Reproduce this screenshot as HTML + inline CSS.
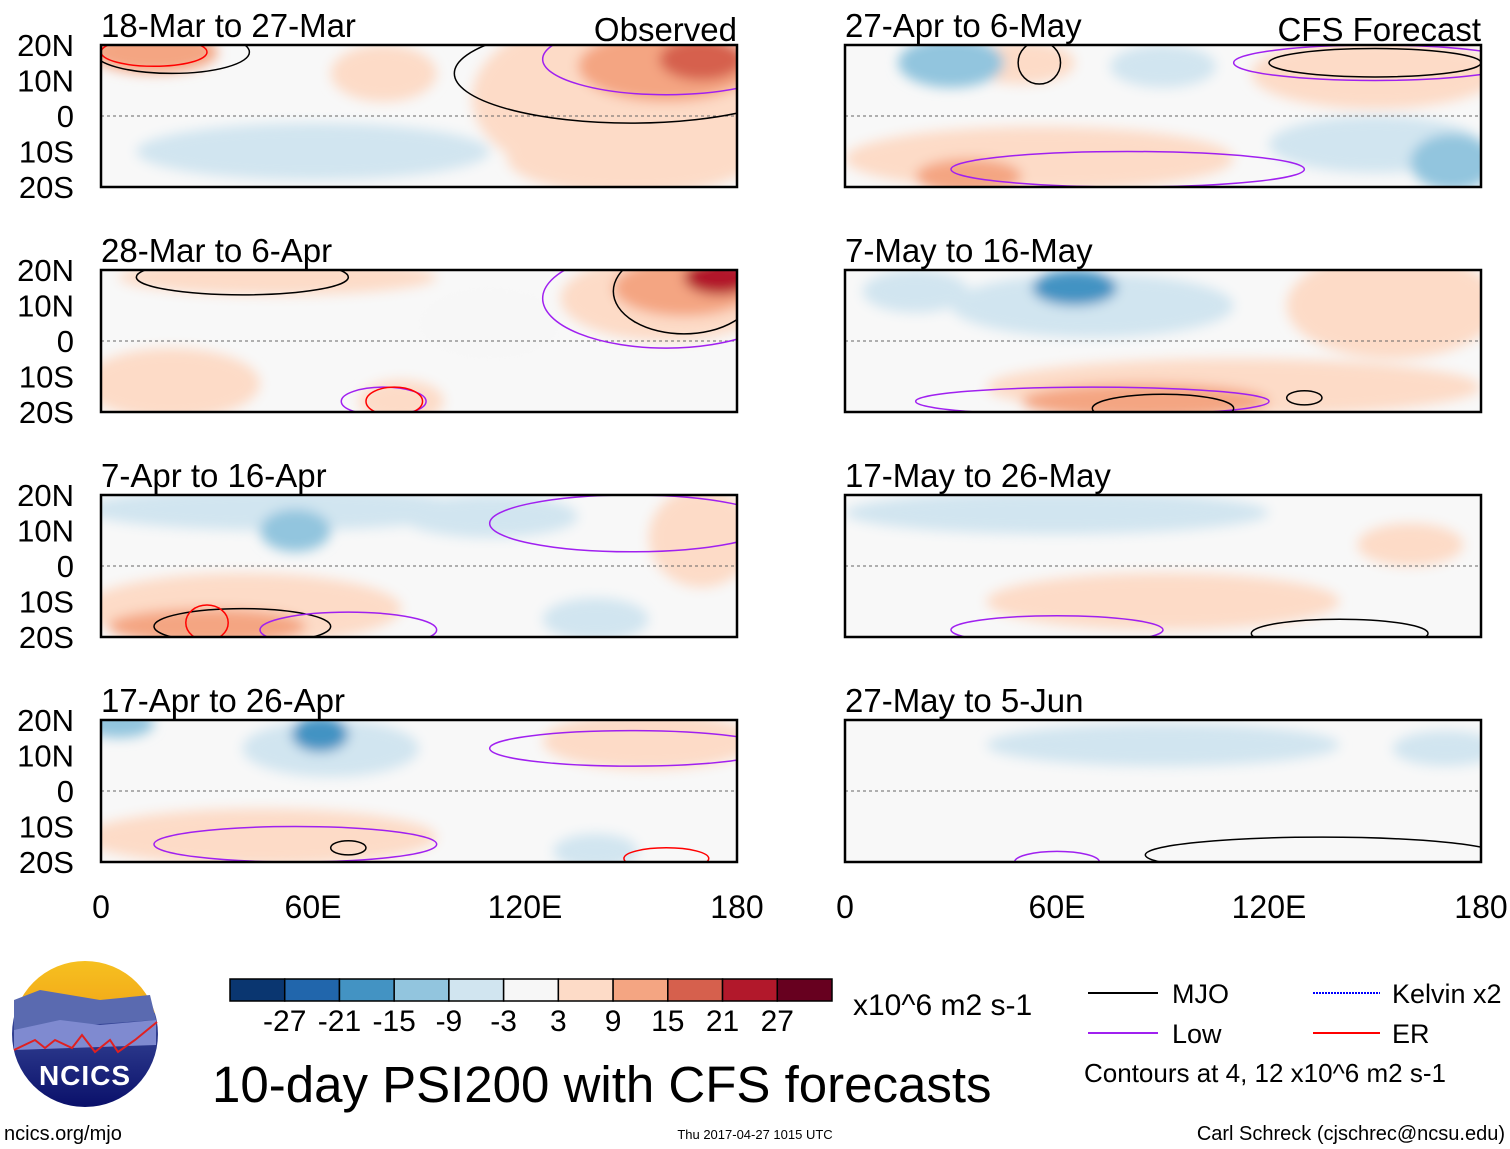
<!DOCTYPE html>
<html><head><meta charset="utf-8">
<style>
body{margin:0;background:#fff;}
svg{display:block;font-family:"Liberation Sans",sans-serif;}
</style></head>
<body>
<svg id="chart" width="1510" height="1149" viewBox="0 0 1510 1149" xmlns="http://www.w3.org/2000/svg">
<defs>
<filter id="blur" x="-50%" y="-50%" width="200%" height="200%"><feGaussianBlur stdDeviation="6"/></filter>
<linearGradient id="sky" x1="0" y1="0" x2="0" y2="1">
<stop offset="0" stop-color="#f6c020"/><stop offset="0.35" stop-color="#f2a818"/><stop offset="0.36" stop-color="#3a4a9a"/><stop offset="1" stop-color="#0a106a"/>
</linearGradient>
</defs>
<g id="panels"></g>
<g id="colorbar"></g>
<text x="853" y="1015" font-size="30">x10^6 m2 s-1</text>
<text x="212" y="1102" font-size="51">10-day PSI200 with CFS forecasts</text>
<g font-size="27">
<line x1="1088" y1="993" x2="1158" y2="993" stroke="#000" stroke-width="2"/>
<text x="1172" y="1003">MJO</text>
<line x1="1088" y1="1033" x2="1158" y2="1033" stroke="#a020f0" stroke-width="2"/>
<text x="1172" y="1043">Low</text>
<line x1="1313" y1="993" x2="1380" y2="993" stroke="#0000ff" stroke-width="2" stroke-dasharray="2,1"/>
<text x="1392" y="1003">Kelvin x2</text>
<line x1="1313" y1="1033" x2="1380" y2="1033" stroke="#ff0000" stroke-width="2"/>
<text x="1392" y="1043">ER</text>
<text x="1084" y="1082" font-size="26">Contours at 4, 12 x10^6 m2 s-1</text>
</g>
<g>
<circle cx="85" cy="1034" r="73" fill="url(#sky)"/>
<path d="M14 1000 L40 990 L70 995 L100 1000 L150 995 L156 1020 L14 1030Z" fill="#5a6ab0"/>
<path d="M14 1030 L60 1020 L100 1025 L156 1020 L156 1045 L14 1050Z" fill="#7f8ad0"/>
<path d="M14 1050 L35 1040 L45 1048 L55 1040 L72 1048 L82 1035 L95 1052 L110 1040 L118 1052 L135 1040 L157 1022" fill="none" stroke="#e02020" stroke-width="2"/>
<text x="85" y="1085" text-anchor="middle" font-size="28" font-weight="bold" fill="#fff" letter-spacing="1">NCICS</text>
</g>
<text x="4" y="1140" font-size="20">ncics.org/mjo</text>
<text x="755" y="1139" font-size="13" text-anchor="middle">Thu 2017-04-27 1015 UTC</text>
<text x="1505" y="1140" font-size="20" text-anchor="end">Carl Schreck (cjschrec@ncsu.edu)</text>
</svg>
<script>
const levels = [-27,-21,-15,-9,-3,3,9,15,21,27];
const colors = ["#0a3670","#2166ac","#4393c3","#92c5de","#d1e5f0","#f7f7f7","#fddbc7","#f4a582","#d6604d","#b2182b","#67001f"];
const panelTitles = ["18-Mar to 27-Mar","28-Mar to 6-Apr","7-Apr to 16-Apr","17-Apr to 26-Apr","27-Apr to 6-May","7-May to 16-May","17-May to 26-May","27-May to 5-Jun"];
const latTicks = ["20N","10N","0","10S","20S"];
const lonTicks = ["0","60E","120E","180"];
// blobs: [lon, lat, lonRadius, latRadius, value]
const blobs0 = [[60,-10,50,8,-4],[150,5,45,25,6],[160,14,25,10,10],[170,16,12,6,16],[15,18,18,6,10],[80,12,15,8,4],[150,-12,35,10,4]];
const blobs1 = [[50,18,45,5,4],[160,12,30,12,6],[165,15,20,8,12],[175,18,10,5,22],[20,-12,25,10,4],[85,-17,12,6,4],[110,5,20,10,-2]];
const blobs2 = [[55,10,10,6,-10],[50,16,55,6,-4],[40,-12,45,10,5],[30,-17,28,5,12],[170,8,15,14,4],[140,-15,15,6,-4],[110,14,25,6,-4]];
const blobs3 = [[62,16,8,5,-16],[65,12,25,8,-4],[155,14,30,8,5],[45,-13,50,8,4],[5,19,10,4,-10],[140,-17,12,5,-4]];
const blobs4 = [[30,15,15,7,-10],[90,14,15,6,-4],[50,15,15,6,5],[150,12,35,10,8],[55,-12,55,9,4],[35,-17,15,5,10],[172,-13,12,8,-10],[150,-8,30,8,-4]];
const blobs5 = [[65,15,12,5,-16],[70,10,40,9,-4],[155,10,30,15,4],[110,-13,70,8,4],[85,-17,35,5,10],[20,14,15,6,-4]];
const blobs6 = [[60,15,60,6,-4],[90,-10,50,8,4],[160,6,15,6,4]];
const blobs7 = [[90,13,50,6,-4],[170,12,15,5,-3]];
const allBlobs=[blobs0,blobs1,blobs2,blobs3,blobs4,blobs5,blobs6,blobs7];
// contours: [lon, lat, lonRadius, latRadius, type]
const contours0=[[20,18,22,6,"mjo"],[160,16,35,10,"low"],[15,18,15,4,"er"],[150,12,50,14,"mjo"]];
const contours1=[[40,18,30,5,"mjo"],[165,14,20,12,"mjo"],[160,12,35,14,"low"],[80,-17,12,4,"low"],[83,-17,8,4,"er"]];
const contours2=[[40,-17,25,5,"mjo"],[30,-16,6,5,"er"],[70,-18,25,5,"low"],[150,12,40,8,"low"]];
const contours3=[[55,-15,40,5,"low"],[70,-16,5,2,"mjo"],[150,12,40,5,"low"],[160,-19,12,3,"er"]];
const contours4=[[55,15,6,6,"mjo"],[150,15,30,4,"mjo"],[150,15,40,5,"low"],[80,-15,50,5,"low"]];
const contours5=[[130,-16,5,2,"mjo"],[70,-17,50,4,"low"],[90,-19,20,4,"mjo"]];
const contours6=[[140,-19,25,4,"mjo"],[60,-18,30,4,"low"]];
const contours7=[[135,-18,50,5,"mjo"],[60,-20,12,3,"low"]];
const allContours=[contours0,contours1,contours2,contours3,contours4,contours5,contours6,contours7];
const contourColors={mjo:"#000",low:"#a020f0",er:"#ff0000",kelvin:"#0000ff"};

const NS="http://www.w3.org/2000/svg";
const W=636,H=142;
const colX=[101,845], rowY=[45,270,495,720];
function mk(tag,attrs,parent){const e=document.createElementNS(NS,tag);for(const k in attrs)e.setAttribute(k,attrs[k]);parent.appendChild(e);return e;}
function colorFor(v){let i=0;while(i<levels.length&&v>levels[i])i++;return colors[i];}
const root=document.getElementById('panels');
for(let p=0;p<8;p++){
  const col=p<4?0:1,row=p%4;
  const x0=colX[col],y0=rowY[row];
  const xs=lon=>x0+lon/180*W;
  const ys=lat=>y0+(20-lat)/40*H;
  const g=mk('g',{},root);
  
  
  const cp=mk('clipPath',{id:'cp'+p},g);
  mk('rect',{x:x0,y:y0,width:W,height:H},cp);
  mk('rect',{x:x0,y:y0,width:W,height:H,fill:"#f8f8f8"},g);
  const inner=mk('g',{'clip-path':'url(#cp'+p+')'},g);
  const fg=mk('g',{filter:'url(#blur)'},inner);
  const sorted=allBlobs[p].slice().sort((a,b)=>Math.abs(a[4])-Math.abs(b[4]));
  for(const b of sorted){
    const e=mk('ellipse',{cx:xs(b[0]),cy:ys(b[1]),rx:b[2]/180*W,ry:b[3]/40*H,fill:colorFor(b[4])},fg);
    
    
  }
  mk('line',{x1:x0,y1:ys(0),x2:x0+W,y2:ys(0),stroke:"#666","stroke-dasharray":"3,3","stroke-width":1},inner);
  for(const c of allContours[p]){
    const e=mk('ellipse',{cx:xs(c[0]),cy:ys(c[1]),rx:c[2]/180*W,ry:c[3]/40*H,fill:"none",stroke:contourColors[c[4]],"stroke-width":1.5},inner);
    
    
  }
  mk('rect',{x:x0,y:y0,width:W,height:H,fill:"none",stroke:"#000","stroke-width":2.5},g);
  const t=mk('text',{x:x0,y:y0-8,'font-size':33},g);t.textContent=panelTitles[p];
  
  
  if(row===0){
    const o=mk('text',{x:x0+W,y:y0-4,'font-size':33,'text-anchor':'end'},g);o.textContent=col===0?"Observed":"CFS Forecast";
    
    
  }
  if(col===0){
    for(let i=0;i<latTicks.length;i++){
      const lt=mk('text',{x:74,y:y0+i*H/4+11,'font-size':31,'text-anchor':'end'},g);lt.textContent=latTicks[i];
      
      
    }
  }
  if(row===3){
    for(let i=0;i<lonTicks.length;i++){
      const lx=x0+i*W/3;
      const lt=mk('text',{x:lx,y:918,'font-size':32,'text-anchor':'middle'},g);lt.textContent=lonTicks[i];
      
      
    }
  }
}
const cb=document.getElementById('colorbar');
const cbx=230,cbw=602/11;
for(let i=0;i<colors.length;i++){
  const r=mk('rect',{x:cbx+i*cbw,y:979,width:cbw,height:22,fill:colors[i],stroke:"#000","stroke-width":1.5},cb);
  
  
}
for(let i=0;i<levels.length;i++){
  const t=mk('text',{x:cbx+(i+1)*cbw,y:1031,'font-size':30,'text-anchor':'middle'},cb);t.textContent=levels[i];
  
  
}
</script>
</body></html>
